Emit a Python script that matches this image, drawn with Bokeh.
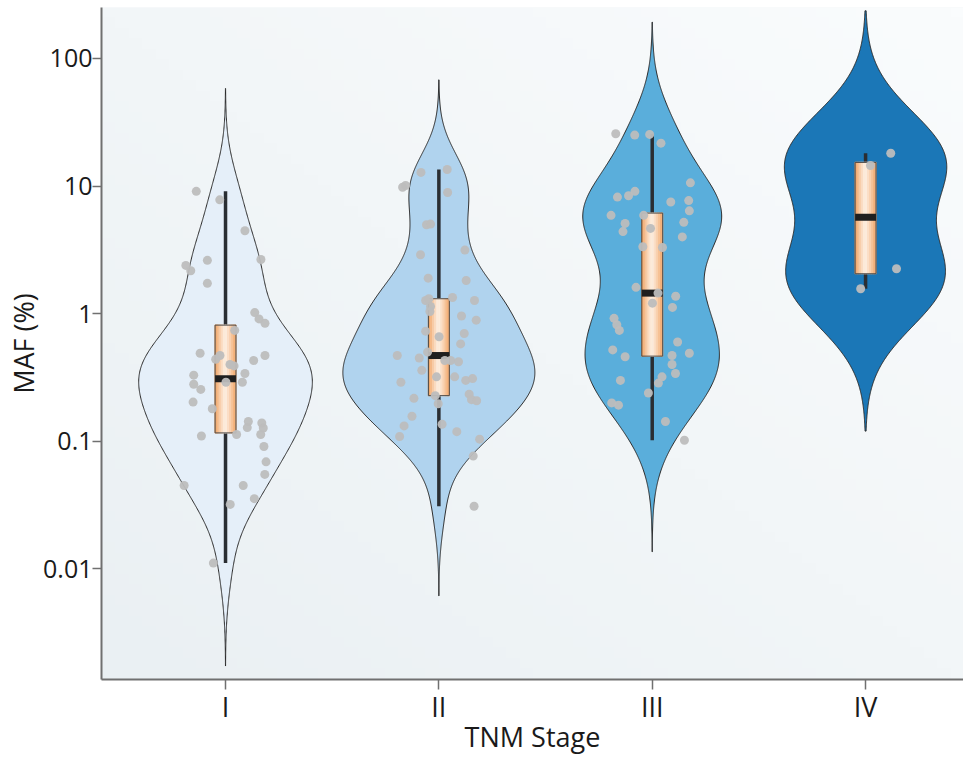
import numpy as np
from bokeh.plotting import figure
from bokeh.models import FixedTicker, CustomJSTickFormatter, Range1d
from bokeh.embed import file_html
from bokeh.resources import INLINE

# ---------------- data ----------------
stages = ["I", "II", "III", "IV"]

maf_stage_I = [9.1, 7.8, 4.47, 2.66, 2.62, 2.39, 2.17, 1.73, 1.02, 0.91, 0.84, 0.74,
               0.49, 0.44, 0.47, 0.43, 0.47, 0.40, 0.39, 0.34, 0.29, 0.29, 0.33, 0.28,
               0.255, 0.203, 0.18, 0.11, 0.113, 0.143, 0.128, 0.139, 0.127, 0.113,
               0.091, 0.069, 0.055, 0.045, 0.045, 0.0355, 0.032, 0.0111]
jitter_stage_I = [-0.137, -0.027, 0.091, 0.166, -0.085, -0.186, -0.163, -0.085, 0.137, 0.157,
                  0.185, 0.043, -0.119, -0.046, -0.026, 0.132, 0.185, 0.021, 0.040, 0.091,
                  0.079, 0.002, -0.149, -0.149, -0.116, -0.152, -0.062, -0.113, 0.052, 0.107,
                  0.102, 0.170, 0.177, 0.165, 0.180, 0.190, 0.184, -0.194, 0.083, 0.135,
                  0.022, -0.057]

maf_stage_II = [12.8, 13.5, 9.8, 10.1, 8.9, 4.98, 5.04, 3.15, 2.9, 1.9, 1.82, 1.27, 1.31,
                1.14, 1.04, 1.34, 1.27, 0.96, 0.89, 0.73, 0.66, 0.70, 0.58, 0.50, 0.47,
                0.45, 0.43, 0.43, 0.42, 0.36, 0.32, 0.32, 0.30, 0.31, 0.29, 0.217, 0.228,
                0.197, 0.234, 0.212, 0.208, 0.157, 0.132, 0.109, 0.136, 0.119, 0.104,
                0.0766, 0.031]
jitter_stage_II = [-0.084, 0.039, -0.170, -0.156, 0.041, -0.058, -0.039, 0.122, -0.086, -0.050,
                   0.128, -0.062, -0.047, -0.039, -0.042, 0.064, 0.167, 0.106, 0.175, -0.062,
                   0.001, 0.119, 0.102, -0.053, -0.195, -0.092, 0.028, 0.055, 0.092, -0.080,
                   -0.011, 0.074, 0.126, 0.158, -0.178, -0.117, -0.017, -0.003, 0.142, 0.153,
                   0.177, -0.126, -0.163, -0.184, 0.015, 0.084, 0.191, 0.161, 0.165]

maf_stage_III = [25.7, 25.1, 25.4, 21.7, 10.6, 8.2, 8.4, 9.1, 7.5, 7.7, 6.4, 5.9, 5.9, 5.1,
                 4.4, 4.66, 5.2, 4.0, 3.35, 3.3, 1.61, 1.45, 1.21, 1.37, 1.12, 0.92, 0.82,
                 0.74, 0.60, 0.52, 0.46, 0.47, 0.49, 0.40, 0.34, 0.32, 0.286, 0.30, 0.239,
                 0.20, 0.192, 0.143, 0.102]
jitter_stage_III = [-0.171, -0.082, -0.012, 0.041, 0.179, -0.163, -0.111, -0.081, 0.087, 0.171,
                    0.174, -0.193, -0.040, -0.127, -0.137, -0.008, 0.148, 0.141, -0.044, 0.048,
                    -0.076, 0.027, 0.001, 0.110, 0.095, -0.179, -0.166, -0.154, 0.119, -0.185,
                    -0.127, 0.093, 0.174, 0.093, 0.109, 0.046, 0.029, -0.149, -0.018, -0.190,
                    -0.158, 0.062, 0.151]

maf_stage_IV = [18.1, 14.5, 2.25, 1.57]
jitter_stage_IV = [0.118, 0.023, 0.145, -0.023]

maf_values = [maf_stage_I, maf_stage_II, maf_stage_III, maf_stage_IV]
jitters = [jitter_stage_I, jitter_stage_II, jitter_stage_III, jitter_stage_IV]

y_ticks = [0.01, 0.1, 1, 10, 100]

# ---------------- styles ----------------
violin_fill = ["#e5eff9", "#b0d3ee", "#5aaedb", "#1b77b7"]
FONT = "Open Sans"
Y_MIN, Y_MAX = 0.001359, 251.0
X_MIN, X_MAX = 0.4187, 4.459

p = figure(width=963, height=757,
           x_range=Range1d(X_MIN, X_MAX), y_range=Range1d(Y_MIN, Y_MAX),
           y_axis_type="log", output_backend="svg", toolbar_location=None,
           min_border_left=101, min_border_right=0, min_border_top=7, min_border_bottom=78)
p.background_fill_color = "#f2f5f7"
p.border_fill_color = "white"
p.outline_line_color = None
p.xgrid.grid_line_color = None
p.ygrid.grid_line_color = None

# subtle diagonal background gradient (lighter top-right, greyer bottom-left)
gh, gw = 64, 64
gy, gx = np.mgrid[0:gh, 0:gw]
t = ((gw - 1 - gx) / (gw - 1) + (1 - gy / (gh - 1))) / 2.0
top_rgb = np.array([250, 252, 253], dtype=float)
bot_rgb = np.array([234, 240, 243], dtype=float)
rgb = top_rgb[None, None, :] + (bot_rgb - top_rgb)[None, None, :] * t[:, :, None]
img = np.empty((gh, gw), dtype=np.uint32)
view = img.view(dtype=np.uint8).reshape((gh, gw, 4))
view[:, :, 0] = rgb[:, :, 0].astype(np.uint8)
view[:, :, 1] = rgb[:, :, 1].astype(np.uint8)
view[:, :, 2] = rgb[:, :, 2].astype(np.uint8)
view[:, :, 3] = 255
p.image_rgba(image=[img], x=X_MIN, y=Y_MIN, dw=X_MAX - X_MIN, dh=Y_MAX - Y_MIN)


def kde(vals):
    lv = np.log10(np.asarray(vals, dtype=float))
    n = len(lv)
    sd = lv.std(ddof=1)
    q1, q3 = np.percentile(lv, [25, 75])
    bw = 0.9 * min(sd, (q3 - q1) / 1.34) * n ** -0.2
    grid = np.linspace(lv.min() - 3 * bw, lv.max() + 3 * bw, 512)
    dens = np.exp(-0.5 * ((grid[:, None] - lv[None, :]) / bw) ** 2).sum(1) / (n * bw * np.sqrt(2 * np.pi))
    return grid, dens


kdes = [kde(v) for v in maf_values]
gmax = max(d.max() for _, d in kdes)


def mix(c1, c2, t):
    a = np.array([int(c1[i:i + 2], 16) for i in (1, 3, 5)], dtype=float)
    b = np.array([int(c2[i:i + 2], 16) for i in (1, 3, 5)], dtype=float)
    c = a + (b - a) * t
    return "#%02x%02x%02x" % tuple(int(round(x)) for x in c)


BOX_HW = 0.049
for i, vals in enumerate(maf_values):
    c = i + 1
    grid, dens = kdes[i]
    half = dens / gmax * 0.45
    xs = np.concatenate([c - half, (c + half)[::-1]])
    ys = 10 ** np.concatenate([grid, grid[::-1]])
    p.patch(xs, ys, fill_color=violin_fill[i], line_color="#2b2b2b", line_width=1)

    lv = np.log10(np.asarray(vals, dtype=float))
    q1, med, q3 = np.percentile(lv, [25, 50, 75])
    iqr = q3 - q1
    wlo = lv[lv >= q1 - 1.5 * iqr].min()
    whi = lv[lv <= q3 + 1.5 * iqr].max()
    p.segment(x0=[c], y0=[10 ** wlo], x1=[c], y1=[10 ** whi], line_color="#2a2e33", line_width=3.5)

    nstrip = 10
    edges = np.linspace(c - BOX_HW, c + BOX_HW, nstrip + 1)
    mids = (edges[:-1] + edges[1:]) / 2
    cols = []
    for m in mids:
        tt = (m - c) / BOX_HW
        edge = "#ef9c58" if tt < 0 else "#f3a96c"
        cols.append(mix("#fdefe2", edge, min(1.0, abs(tt) ** 1.2)))
    p.quad(left=edges[:-1], right=edges[1:], bottom=[10 ** q1] * nstrip, top=[10 ** q3] * nstrip,
           fill_color=cols, line_color=cols, line_width=1.2)
    p.quad(left=[c - BOX_HW], right=[c + BOX_HW], bottom=[10 ** q1], top=[10 ** q3],
           fill_color=None, line_color="#4a4a4a", line_width=1)
    p.rect(x=[c], y=[10 ** med], width=2 * BOX_HW, height=7, height_units="screen",
           fill_color="#1f1f1f", line_color=None)

    xs_pts = [c + j for j in jitters[i]]
    p.scatter(xs_pts, vals, size=9, fill_color="#bdbdbd", fill_alpha=0.95, line_color=None)

# axes
p.xaxis.ticker = FixedTicker(ticks=[1, 2, 3, 4])
p.xaxis.major_label_overrides = {i + 1: s for i, s in enumerate(stages)}
p.yaxis.ticker = FixedTicker(ticks=y_ticks)
p.yaxis.formatter = CustomJSTickFormatter(code="return tick >= 1 ? tick.toFixed(0) : String(parseFloat(tick.toPrecision(1)));")
for ax in (p.xaxis[0], p.yaxis[0]):
    ax.axis_line_color = "#707070"
    ax.axis_line_width = 2
    ax.major_tick_line_color = "#707070"
    ax.major_tick_line_width = 1.5
    ax.major_tick_in = 0
    ax.minor_tick_line_color = None
    ax.major_label_text_font = FONT
    ax.major_label_text_color = "#1a1a1a"
    ax.axis_label_text_font = FONT
    ax.axis_label_text_font_style = "normal"
    ax.axis_label_text_color = "#1a1a1a"
p.xaxis.major_tick_out = 10
p.yaxis.major_tick_out = 9
p.xaxis.major_label_text_font_size = "27px"
p.yaxis.major_label_text_font_size = "25px"
p.xaxis.major_label_standoff = -2
p.yaxis.major_label_standoff = 0
p.yaxis.axis_label = "MAF (%)"
p.yaxis.axis_label_text_font_size = "27px"
p.yaxis.axis_label_standoff = -2
p.xaxis.axis_label = "TNM Stage"
p.xaxis.axis_label_text_font_size = "27px"
p.xaxis.axis_label_standoff = -10

open("out.html", "w").write(file_html(p, INLINE))
